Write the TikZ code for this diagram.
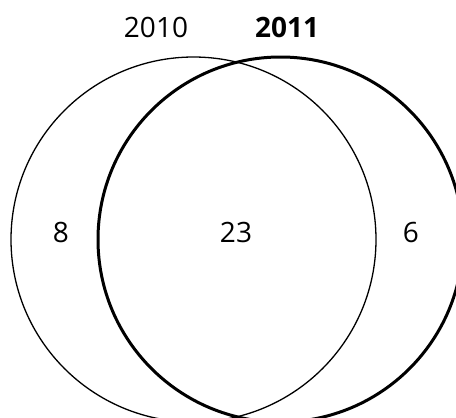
\documentclass[tikz,border=0pt]{standalone}
\usepackage{fontspec}
\setmainfont{Open Sans}
\usetikzlibrary{positioning}

\begin{document}
\begin{tikzpicture}[
    x=1pt, y=-1pt,
    setcircle/.style={circle, draw=black, minimum size=365pt, inner sep=0pt},
    count/.style={font=\fontsize{28}{32}\selectfont, inner sep=0pt}
]
\useasboundingbox (0,0) rectangle (456,418);
\clip (0,0) rectangle (456,418);

% The two sets
\node[setcircle, line width=1.3pt] (c2010) at (193.5,239.5) {};
\node[setcircle, line width=3pt] (c2011) at (280.5,239.5) {};

% Set titles
\node[count, anchor=base] (t2010) at (156,37.5) {2010};
\node[count, anchor=base] (t2011) at (287,37.5) {\bfseries 2011};

% Counts in each region
\node[count] (only2010) at (61,232) {8};
\node[count] (both) at (236,232) {23};
\node[count] (only2011) at (411,232) {6};

\end{tikzpicture}
\end{document}
